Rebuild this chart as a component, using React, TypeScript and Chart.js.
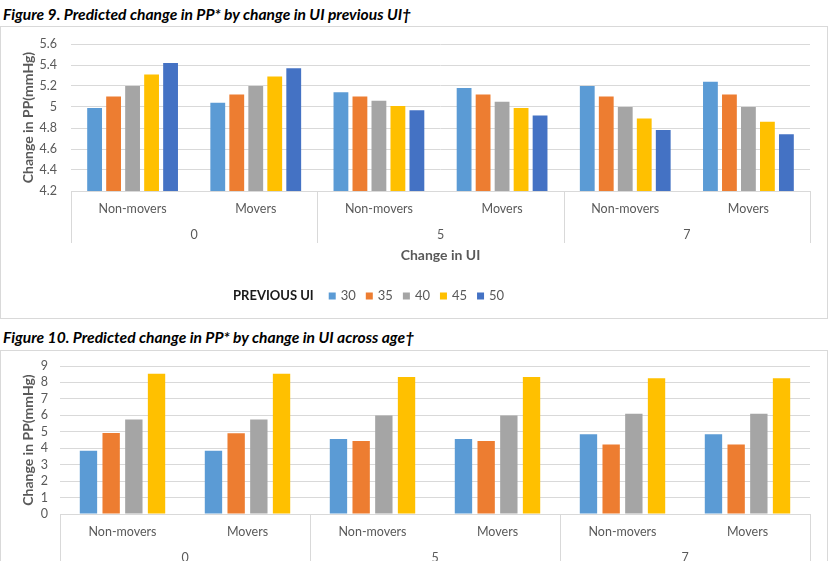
import React, { useEffect, useRef } from 'react';
import { Chart, registerables } from 'chart.js';

Chart.register(...registerables);

const FONT = 'Lato, "Open Sans", sans-serif';
const GRID = '#d9d9d9';
const TEXT = '#595959';

// Category structure shared by both figures: change in UI × mover status
const UI_CHANGE_GROUPS = ['0', '5', '7'];
const MOVER_STATUS = ['Non-movers', 'Movers'];
const CATEGORIES = UI_CHANGE_GROUPS.flatMap(() => MOVER_STATUS);

const SERIES_COLORS = ['#5B9BD5', '#ED7D31', '#A5A5A5', '#FFC000', '#4472C4'];

// Figure 9: predicted change in PP by previous UI
const PREVIOUS_UI_LABELS = ['30', '35', '40', '45', '50'];
const PP_PREV_UI_30 = [4.99, 5.04, 5.14, 5.18, 5.2, 5.24];
const PP_PREV_UI_35 = [5.1, 5.12, 5.1, 5.12, 5.1, 5.12];
const PP_PREV_UI_40 = [5.2, 5.2, 5.06, 5.05, 5.0, 5.0];
const PP_PREV_UI_45 = [5.31, 5.29, 5.01, 4.99, 4.89, 4.86];
const PP_PREV_UI_50 = [5.42, 5.37, 4.97, 4.92, 4.78, 4.74];
const FIG9_Y_MIN = 4.2;
const FIG9_Y_MAX = 5.6;
const FIG9_Y_STEP = 0.2;

// Figure 10: predicted change in PP across age groups
const AGE_GROUP_LABELS = ['Age group 1', 'Age group 2', 'Age group 3', 'Age group 4'];
const PP_AGE_1 = [3.85, 3.85, 4.56, 4.56, 4.85, 4.85];
const PP_AGE_2 = [4.93, 4.91, 4.44, 4.44, 4.22, 4.22];
const PP_AGE_3 = [5.74, 5.74, 5.99, 5.99, 6.09, 6.09];
const PP_AGE_4 = [8.53, 8.53, 8.33, 8.33, 8.25, 8.25];
const FIG10_Y_MIN = 0;
const FIG10_Y_MAX = 9;
const FIG10_Y_STEP = 1;

const Y_TITLE = 'Change in PP(mmHg)';
const X_TITLE = 'Change in UI';
const LEGEND_TITLE = 'PREVIOUS UI';

// Draws the box lines that separate the outer (UI change) groups below the plot
const multiLevelAxis = {
  id: 'multiLevelAxis',
  afterDraw(chart: any) {
    const x = chart.scales.x;
    const x2 = chart.scales.x2;
    if (!x || !x2) return;
    const n = x2.ticks.length;
    const edges: number[] = [x2.left];
    for (let k = 0; k < n - 1; k++) {
      edges.push((x2.getPixelForTick(k) + x2.getPixelForTick(k + 1)) / 2);
    }
    edges.push(x2.right);
    const ctx = chart.ctx;
    ctx.save();
    ctx.strokeStyle = GRID;
    ctx.lineWidth = 1;
    edges.forEach((px) => {
      const p = Math.round(px) + 0.5;
      ctx.beginPath();
      ctx.moveTo(p, x.top);
      ctx.lineTo(p, x2.top + 22);
      ctx.stroke();
    });
    ctx.restore();
  },
};

// Single-row legend with a bold title in front of the series entries
const inlineLegend = {
  id: 'inlineLegend',
  afterDraw(chart: any, _args: any, opts: any) {
    if (!opts || !opts.display) return;
    const ctx = chart.ctx;
    let cx = opts.x;
    const cy = opts.y;
    ctx.save();
    ctx.textBaseline = 'middle';
    ctx.textAlign = 'left';
    ctx.font = `bold 13px ${FONT}`;
    ctx.fillStyle = '#1a1a1a';
    ctx.fillText(opts.title, cx, cy);
    cx += ctx.measureText(opts.title).width + 15;
    ctx.font = `13px ${FONT}`;
    chart.data.datasets.forEach((ds: any) => {
      ctx.fillStyle = ds.backgroundColor;
      ctx.fillRect(cx, cy - 3.5, 7, 7);
      cx += 12;
      ctx.fillStyle = TEXT;
      ctx.fillText(ds.label, cx, cy);
      cx += ctx.measureText(ds.label).width + 10;
    });
    ctx.restore();
  },
};

type PanelProps = {
  labels: string[];
  series: number[][];
  yMin: number;
  yMax: number;
  yStep: number;
  yAxisWidth: number;
  yTickGap: number;
  paddingTop: number;
  paddingBottom: number;
  categoryPercentage: number;
  barPercentage: number;
  legend: boolean;
  width: number;
  height: number;
};

function BarPanel(p: PanelProps) {
  const ref = useRef<HTMLCanvasElement | null>(null);

  useEffect(() => {
    if (!ref.current) return;
    const chart = new Chart(ref.current, {
      type: 'bar',
      data: {
        labels: CATEGORIES,
        datasets: p.series.map((values, i) => ({
          label: p.labels[i],
          data: values,
          backgroundColor: SERIES_COLORS[i],
          borderWidth: 0,
          categoryPercentage: p.categoryPercentage,
          barPercentage: p.barPercentage,
        })),
      },
      options: {
        responsive: false,
        maintainAspectRatio: false,
        animation: false,
        layout: {
          padding: { top: p.paddingTop, right: 18, bottom: p.paddingBottom, left: 0 },
        },
        plugins: {
          legend: { display: false },
          tooltip: { enabled: false },
          inlineLegend: { display: p.legend, title: LEGEND_TITLE, x: 233, y: p.height - 23 },
        } as any,
        scales: {
          x: {
            type: 'category',
            offset: true,
            grid: { display: false, offset: true, drawTicks: false },
            border: { display: true, color: GRID, width: 1 },
            ticks: {
              color: TEXT,
              font: { family: FONT, size: 12.5 },
              padding: 10,
              maxRotation: 0,
              autoSkip: false,
            },
            afterFit: (s: any) => {
              s.height = 30;
            },
          },
          x2: {
            type: 'category',
            position: 'bottom',
            labels: UI_CHANGE_GROUPS,
            offset: true,
            grid: { display: false, drawTicks: false },
            border: { display: false },
            ticks: {
              color: TEXT,
              font: { family: FONT, size: 12.5 },
              padding: 6,
              maxRotation: 0,
            },
            title: {
              display: true,
              text: X_TITLE,
              color: TEXT,
              font: { family: FONT, size: 14, weight: 'bold' },
              padding: { top: 0, bottom: 2 },
            },
            afterFit: (s: any) => {
              s.height = 45;
            },
          },
          y: {
            min: p.yMin,
            max: p.yMax,
            grid: {
              color: GRID,
              drawTicks: true,
              tickLength: p.yTickGap,
              tickColor: 'rgba(0,0,0,0)',
            },
            border: { display: false },
            ticks: {
              stepSize: p.yStep,
              autoSkip: false,
              color: TEXT,
              font: { family: FONT, size: 12.5 },
              padding: 0,
              callback: (v: any) => String(Math.round(Number(v) * 10) / 10),
            },
            title: {
              display: true,
              text: Y_TITLE,
              color: TEXT,
              font: { family: FONT, size: 14, weight: 'bold' },
              padding: { top: 20, bottom: 0 },
            },
            afterFit: (s: any) => {
              s.width = p.yAxisWidth;
            },
          },
        } as any,
      },
      plugins: [multiLevelAxis, inlineLegend],
    });
    return () => chart.destroy();
  }, []);

  return (
    <canvas
      ref={ref}
      width={p.width}
      height={p.height}
      style={{ display: 'block', width: p.width, height: p.height }}
    />
  );
}

const captionStyle: React.CSSProperties = {
  position: 'absolute',
  left: 3,
  margin: 0,
  fontFamily: FONT,
  fontWeight: 'bold',
  fontStyle: 'italic',
  fontSize: 15.6,
  lineHeight: 1,
  color: '#000',
  whiteSpace: 'nowrap',
};

const boxStyle: React.CSSProperties = {
  position: 'absolute',
  left: 0,
  width: 828,
  height: 293,
  boxSizing: 'border-box',
  border: `1px solid ${GRID}`,
  overflow: 'hidden',
};

export default function App() {
  return (
    <div
      style={{
        position: 'absolute',
        left: 0,
        top: 0,
        width: 828,
        height: 561,
        overflow: 'hidden',
        background: '#fff',
      }}
    >
      <div style={{ ...captionStyle, top: 7 }}>
        Figure 9. Predicted change in PP* by change in UI previous UI†
      </div>
      <div style={{ ...boxStyle, top: 26 }}>
        <div style={{ position: 'absolute', left: -1, top: -1 }}>
          <BarPanel
            labels={PREVIOUS_UI_LABELS}
            series={[PP_PREV_UI_30, PP_PREV_UI_35, PP_PREV_UI_40, PP_PREV_UI_45, PP_PREV_UI_50]}
            yMin={FIG9_Y_MIN}
            yMax={FIG9_Y_MAX}
            yStep={FIG9_Y_STEP}
            yAxisWidth={71}
            yTickGap={14}
            paddingTop={18}
            paddingBottom={53}
            categoryPercentage={0.771}
            barPercentage={0.78}
            legend={true}
            width={828}
            height={293}
          />
        </div>
      </div>

      <div style={{ ...captionStyle, top: 330 }}>
        Figure 10. Predicted change in PP* by change in UI across age†
      </div>
      <div style={{ ...boxStyle, top: 350 }}>
        <div style={{ position: 'absolute', left: -1, top: -1 }}>
          <BarPanel
            labels={AGE_GROUP_LABELS}
            series={[PP_AGE_1, PP_AGE_2, PP_AGE_3, PP_AGE_4]}
            yMin={FIG10_Y_MIN}
            yMax={FIG10_Y_MAX}
            yStep={FIG10_Y_STEP}
            yAxisWidth={60}
            yTickGap={12}
            paddingTop={16}
            paddingBottom={54}
            categoryPercentage={0.726}
            barPercentage={0.765}
            legend={false}
            width={828}
            height={293}
          />
        </div>
      </div>
    </div>
  );
}
